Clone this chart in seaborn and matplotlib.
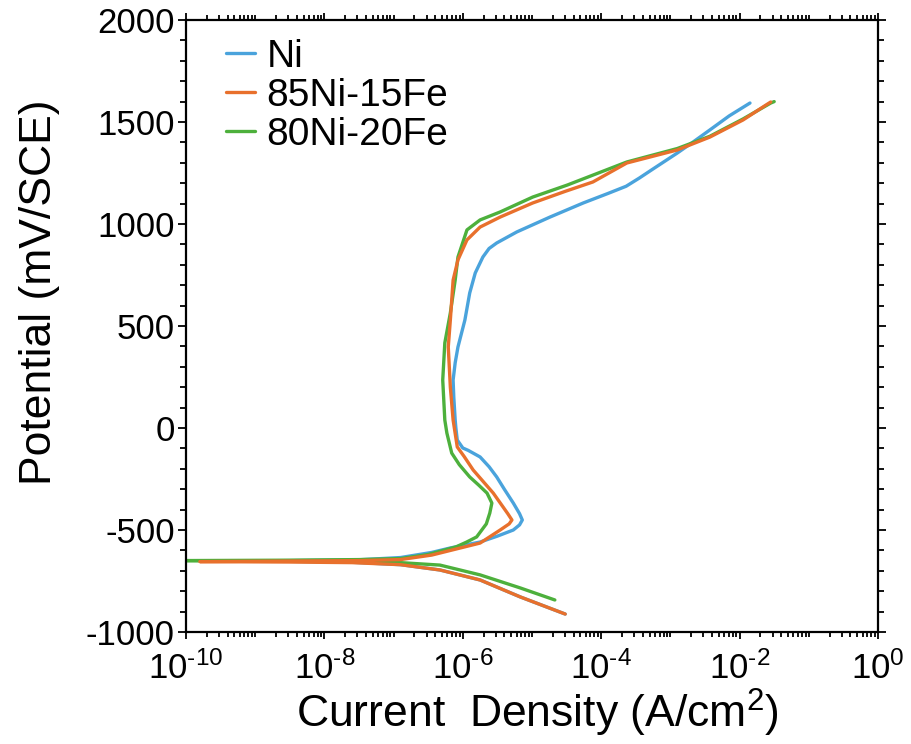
import numpy as np
import pandas as pd
import matplotlib
matplotlib.use("Agg")
import matplotlib.pyplot as plt
import matplotlib.ticker as mticker
import seaborn as sns

# Potentiodynamic polarization scans: potential (mV vs SCE) and log10 current density (A/cm^2)
ni_potential = [-912, -828, -745, -696, -670, -658, -653, -652, -650, -646, -635, -610,
                -588, -559, -530, -500, -475, -451, -420, -368, -300, -240, -190, -142,
                -110, -98, -59, 0, 39, 150, 235, 320, 397, 529, 662, 760, 838, 880, 907,
                961, 1034, 1103, 1150, 1185, 1225, 1270, 1348, 1400, 1461, 1530, 1593]
ni_log_current = [-4.52, -5.17, -5.75, -6.33, -6.9, -7.6, -8.6, -9.5, -8.5, -7.5, -6.9, -6.45,
                  -6.18, -5.75, -5.5, -5.27, -5.18, -5.14, -5.18, -5.27, -5.40, -5.51, -5.62, -5.75,
                  -5.92, -6.0, -6.08, -6.10, -6.11, -6.13, -6.14, -6.11, -6.07, -5.97, -5.90, -5.82, -5.71, -5.62, -5.51,
                  -5.22, -4.74, -4.26, -3.90, -3.64, -3.45, -3.25, -2.90, -2.68, -2.43, -2.15, -1.85]

ni15fe_potential = [-912, -828, -745, -696, -670, -660, -657, -655, -652, -650, -645, -623,
                    -564, -500, -470, -451, -420, -319, -206, -140, -93, 39, 200, 397, 529,
                    725, 824, 922, 985, 1034, 1103, 1160, 1206, 1299, 1363, 1426, 1510, 1583, 1598]
ni15fe_log_current = [-4.52, -5.17, -5.75, -6.33, -6.9, -7.6, -8.5, -9.8, -8.5, -7.5, -6.9, -6.45,
                      -5.75, -5.46, -5.33, -5.29, -5.35, -5.56, -5.85, -5.98, -6.08, -6.14, -6.18, -6.21, -6.18,
                      -6.14, -6.07, -5.94, -5.75, -5.46, -4.99, -4.52, -4.12, -3.63, -2.90, -2.43, -1.95, -1.62, -1.55]

ni20fe_potential = [-843, -784, -720, -672, -660, -655, -652, -650, -648, -645, -640, -620,
                    -583, -560, -534, -470, -417, -368, -319, -280, -240, -180, -123, -25,
                    39, 235, 417, 564, 725, 838, 971, 1020, 1059, 1132, 1191, 1304, 1370,
                    1430, 1515, 1593, 1600]
ni20fe_log_current = [-4.67, -5.17, -5.75, -6.33, -6.9, -7.6, -9.0, -10.1, -8.5, -7.5, -6.9, -6.5,
                      -6.1, -5.95, -5.8, -5.66, -5.61, -5.58, -5.65, -5.77, -5.9, -6.05, -6.16, -6.23,
                      -6.26, -6.29, -6.26, -6.18, -6.11, -6.07, -5.94, -5.75, -5.46, -4.99, -4.49, -3.63, -2.90,
                      -2.43, -1.95, -1.55, -1.50]

alloys = ["Ni", "85Ni-15Fe", "80Ni-20Fe"]
colors = ["#4aa3dc", "#e8702c", "#4db03c"]

x_tick_values = [1e-10, 1e-8, 1e-6, 1e-4, 1e-2, 1]
x_tick_labels = [r"$10^{\text{-10}}$", r"$10^{\text{-8}}$", r"$10^{\text{-6}}$",
                 r"$10^{\text{-4}}$", r"$10^{\text{-2}}$", r"$10^{0}$"]

frames = []
for name, pot, logi in [(alloys[0], ni_potential, ni_log_current),
                        (alloys[1], ni15fe_potential, ni15fe_log_current),
                        (alloys[2], ni20fe_potential, ni20fe_log_current)]:
    frames.append(pd.DataFrame({"alloy": name,
                                "current": 10.0 ** np.asarray(logi),
                                "potential": pot}))
df = pd.concat(frames, ignore_index=True)

sns.set_style("ticks")
plt.rcParams["font.family"] = ["Liberation Sans", "DejaVu Sans"]
plt.rcParams["mathtext.fontset"] = "custom"
plt.rcParams["mathtext.rm"] = "Liberation Sans"
plt.rcParams["mathtext.default"] = "regular"
plt.rcParams["axes.unicode_minus"] = False
for key in ["text.color", "axes.labelcolor", "xtick.color", "ytick.color",
            "xtick.labelcolor", "ytick.labelcolor"]:
    plt.rcParams[key] = "black"

fig = plt.figure(figsize=(9.11, 7.44), dpi=100)
ax = fig.add_axes([186 / 911, 1 - 632 / 744, 692 / 911, 612 / 744])

sns.lineplot(data=df, x="current", y="potential", hue="alloy", hue_order=alloys,
             palette=colors, sort=False, estimator=None, units="alloy",
             linewidth=2.4, ax=ax, legend=True)
# orange trace sits on top
ax.lines[1].set_zorder(3.5)

ax.set_xscale("log")
ax.set_xlim(1e-10, 1)
ax.set_ylim(-1000, 2000)

ax.set_xticks(x_tick_values)
ax.set_xticklabels(x_tick_labels)
ax.set_xticks([10.0 ** k for k in range(-9, 0, 2)] +
              [m * 10.0 ** k for k in range(-10, 0) for m in range(2, 10)], minor=True)
ax.xaxis.set_minor_formatter(mticker.NullFormatter())

ax.yaxis.set_major_locator(mticker.MultipleLocator(500))
ax.yaxis.set_minor_locator(mticker.MultipleLocator(100))

for side in ["left", "right", "top", "bottom"]:
    ax.spines[side].set_visible(True)
    ax.spines[side].set_linewidth(1.6)
    ax.spines[side].set_color("black")

ax.tick_params(which="both", direction="out", top=True, right=True, color="black", width=1.3)
ax.tick_params(axis="y", which="major", length=6, labelsize=25, pad=2)
ax.tick_params(axis="y", which="minor", length=4)
ax.tick_params(axis="x", which="major", length=5, labelsize=25, pad=9)
ax.tick_params(axis="x", which="minor", length=3.5)

ax.set_xlabel(r"Current  Density (A/cm$^{2}$)", fontsize=32)
ax.set_ylabel("Potential (mV/SCE)", fontsize=32)
ax.xaxis.set_label_coords(0.508, -0.133)
ax.yaxis.set_label_coords(-0.212, 0.555)
ax.xaxis.label.set_verticalalignment("center")
ax.yaxis.label.set_verticalalignment("center")

leg = ax.legend(loc="upper left", bbox_to_anchor=(0.035, 0.995), frameon=False,
                fontsize=28, handlelength=0.75, handletextpad=0.3, labelspacing=0.08,
                borderaxespad=0)
for line in leg.get_lines():
    line.set_linewidth(2.4)

fig.savefig("out.png", dpi=100, facecolor="white")
